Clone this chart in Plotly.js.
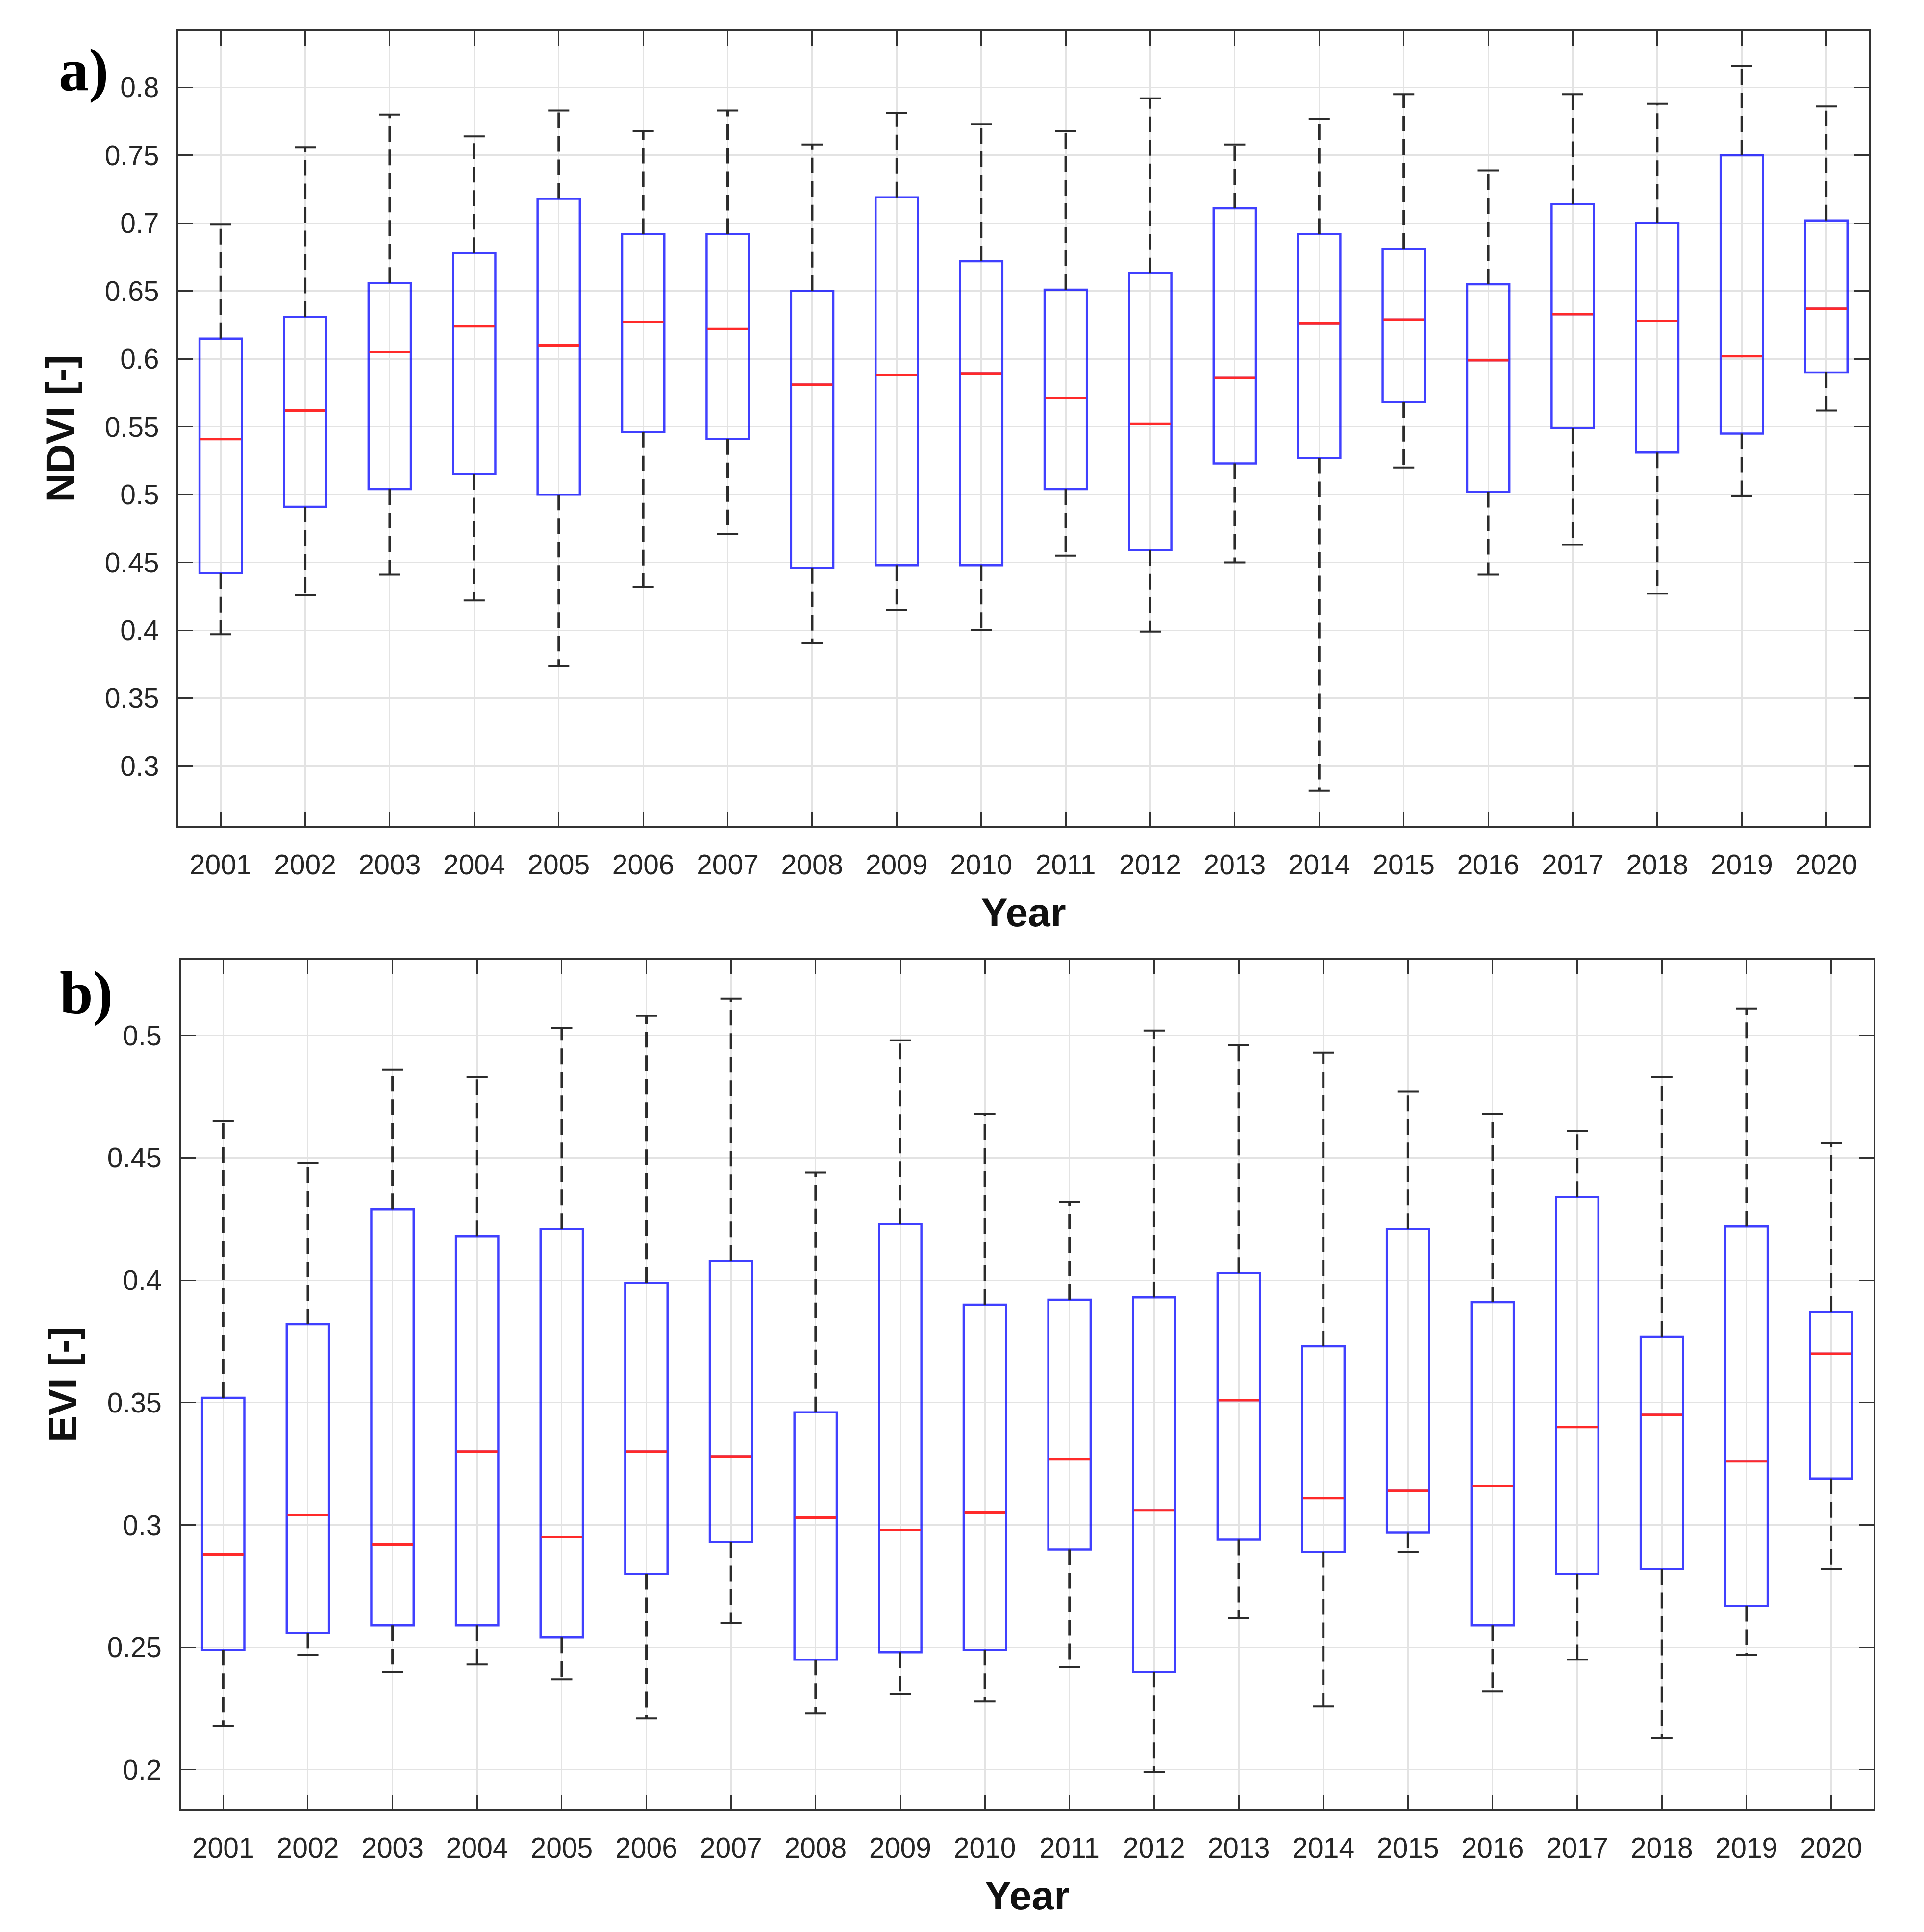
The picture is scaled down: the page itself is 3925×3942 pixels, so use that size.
<!DOCTYPE html>
<html>
<head>
<meta charset="utf-8">
<script src="https://cdn.plot.ly/plotly-3.0.1.min.js"></script>
<style>html,body{margin:0;padding:0;background:#fff;}#chart{width:3925px;height:3942px;}</style>
</head>
<body>
<div id="chart"></div>
<script>
// ---- Data ----
const years = [2001,2002,2003,2004,2005,2006,2007,2008,2009,2010,2011,2012,2013,2014,2015,2016,2017,2018,2019,2020];

// a) NDVI box statistics
const ndviLower  = [0.397,0.426,0.441,0.422,0.374,0.432,0.471,0.391,0.415,0.400,0.455,0.399,0.450,0.282,0.520,0.441,0.463,0.427,0.499,0.562];
const ndviQ1     = [0.442,0.491,0.504,0.515,0.500,0.546,0.541,0.446,0.448,0.448,0.504,0.459,0.523,0.527,0.568,0.502,0.549,0.531,0.545,0.590];
const ndviMedian = [0.541,0.562,0.605,0.624,0.610,0.627,0.622,0.581,0.588,0.589,0.571,0.552,0.586,0.626,0.629,0.599,0.633,0.628,0.602,0.637];
const ndviQ3     = [0.615,0.631,0.656,0.678,0.718,0.692,0.692,0.650,0.719,0.672,0.651,0.663,0.711,0.692,0.681,0.655,0.714,0.700,0.750,0.702];
const ndviUpper  = [0.699,0.756,0.780,0.764,0.783,0.768,0.783,0.758,0.781,0.773,0.768,0.792,0.758,0.777,0.795,0.739,0.795,0.788,0.816,0.786];

// b) EVI box statistics
const eviLower  = [0.218,0.247,0.240,0.243,0.237,0.221,0.260,0.223,0.231,0.228,0.242,0.199,0.262,0.226,0.289,0.232,0.245,0.213,0.247,0.282];
const eviQ1     = [0.249,0.256,0.259,0.259,0.254,0.280,0.293,0.245,0.248,0.249,0.290,0.240,0.294,0.289,0.297,0.259,0.280,0.282,0.267,0.319];
const eviMedian = [0.288,0.304,0.292,0.330,0.295,0.330,0.328,0.303,0.298,0.305,0.327,0.306,0.351,0.311,0.314,0.316,0.340,0.345,0.326,0.370];
const eviQ3     = [0.352,0.382,0.429,0.418,0.421,0.399,0.408,0.346,0.423,0.390,0.392,0.393,0.403,0.373,0.421,0.391,0.434,0.377,0.422,0.387];
const eviUpper  = [0.465,0.448,0.486,0.483,0.503,0.508,0.515,0.444,0.498,0.468,0.432,0.502,0.496,0.493,0.477,0.468,0.461,0.483,0.511,0.456];

const xTitle = 'Year';
const ndviTitle = 'NDVI [-]';
const eviTitle = 'EVI [-]';
const panelLabels = ['a)', 'b)'];

// ---- Styling ----
const BOX_HALF = 0.25;   // box width 0.5 in x units
const CAP_HALF = 0.125;
const BLUE = 'rgba(0,0,255,0.75)';
const RED = '#ff2a2a';
const WHISK = '#2b2b2b';

function panelTraces(xa, ya, lower, q1, med, q3, upper) {
  const box = {
    type: 'box', xaxis: xa, yaxis: ya,
    x: years, q1: q1, median: med, q3: q3,
    lowerfence: q1, upperfence: q3,
    width: 2 * BOX_HALF, whiskerwidth: 0,
    boxpoints: false,
    line: {color: BLUE, width: 4.5},
    fillcolor: 'rgba(0,0,0,0)',
    showlegend: false, hoverinfo: 'skip'
  };
  const wx = [], wy = [], cx = [], cy = [], mx = [], my = [];
  years.forEach((yr, i) => {
    wx.push(yr, yr, null, yr, yr, null);
    wy.push(q3[i], upper[i], null, q1[i], lower[i], null);
    cx.push(yr - CAP_HALF, yr + CAP_HALF, null, yr - CAP_HALF, yr + CAP_HALF, null);
    cy.push(upper[i], upper[i], null, lower[i], lower[i], null);
    mx.push(yr - BOX_HALF + 0.01, yr + BOX_HALF - 0.01, null);
    my.push(med[i], med[i], null);
  });
  const whisk = {type: 'scatter', mode: 'lines', xaxis: xa, yaxis: ya, x: wx, y: wy,
    line: {color: WHISK, width: 5, dash: '32px,16px'}, showlegend: false, hoverinfo: 'skip', connectgaps: false};
  const caps = {type: 'scatter', mode: 'lines', xaxis: xa, yaxis: ya, x: cx, y: cy,
    line: {color: WHISK, width: 4}, showlegend: false, hoverinfo: 'skip', connectgaps: false};
  const meds = {type: 'scatter', mode: 'lines', xaxis: xa, yaxis: ya, x: mx, y: my,
    line: {color: RED, width: 5}, showlegend: false, hoverinfo: 'skip', connectgaps: false};
  return [whisk, caps, box, meds];
}

const data = [].concat(
  panelTraces('x', 'y', ndviLower, ndviQ1, ndviMedian, ndviQ3, ndviUpper),
  panelTraces('x2', 'y2', eviLower, eviQ1, eviMedian, eviQ3, eviUpper)
);

const tickFont = {family: 'Liberation Sans, Arial, sans-serif', size: 57, color: '#262626'};
const titleFont = {family: 'Liberation Sans, Arial, sans-serif', size: 82, color: '#111', weight: 'bold'};

function xAxis(domain, anchor) {
  return {
    domain: domain, anchor: anchor,
    range: [2000.5, 2020.5],
    tickmode: 'array', tickvals: years, ticktext: years.map(String),
    ticks: 'inside', ticklen: 30, tickwidth: 3, tickcolor: '#333',
    showline: true, linecolor: '#333', linewidth: 4, mirror: 'ticks',
    showgrid: true, gridcolor: '#e3e3e3', gridwidth: 3,
    zeroline: false,
    tickfont: tickFont, ticklabelstandoff: 26,
    title: {text: xTitle, font: titleFont, standoff: 38}
  };
}
function yAxis(domain, anchor, range, dtick, title) {
  return {
    domain: domain, anchor: anchor,
    range: range, tick0: 0, dtick: dtick,
    ticks: 'inside', ticklen: 30, tickwidth: 3, tickcolor: '#333',
    showline: true, linecolor: '#333', linewidth: 4, mirror: 'ticks',
    showgrid: true, gridcolor: '#e3e3e3', gridwidth: 3,
    zeroline: false,
    tickfont: tickFont, ticklabelstandoff: 24,
    title: {text: title, font: titleFont, standoff: 36}
  };
}

const labelFont = {family: 'Liberation Serif, Times New Roman, serif', size: 122, color: '#000', weight: 'bold'};

const layout = {
  width: 3925, height: 3942,
  margin: {l: 360, r: 100, t: 55, b: 245},
  paper_bgcolor: '#fff', plot_bgcolor: '#fff',
  showlegend: false,
  xaxis: xAxis([0.00115, 0.9962], 'y'),
  yaxis: yAxis([0.5522, 0.9978], 'x', [0.2556, 0.8417], 0.05, ndviTitle),
  xaxis2: xAxis([0.0026, 0.9991], 'y2'),
  yaxis2: yAxis([0.0014, 0.4775], 'x2', [0.1838, 0.531], 0.05, eviTitle),
  annotations: [
    {text: panelLabels[0], xref: 'paper', yref: 'paper', x: -0.0545, y: 0.9758, xanchor: 'center', yanchor: 'middle',
     showarrow: false, font: labelFont},
    {text: panelLabels[1], xref: 'paper', yref: 'paper', x: -0.0531, y: 0.4588, xanchor: 'center', yanchor: 'middle',
     showarrow: false, font: labelFont}
  ]
};

Plotly.newPlot('chart', data, layout, {staticPlot: true, displayModeBar: false});
</script>
</body>
</html>
